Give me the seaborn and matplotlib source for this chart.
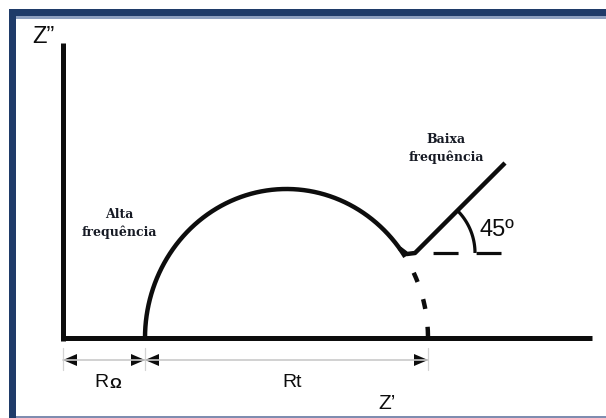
import numpy as np
import matplotlib
matplotlib.use("Agg")
import matplotlib.pyplot as plt
import seaborn as sns
from matplotlib.patches import Rectangle, Polygon

# Nyquist diagram of a Randles cell (drawing units, no scale)
R_ohm = 82            # high-frequency intercept (solution resistance)
R_t = 283             # charge-transfer resistance = arc diameter
arc_peak = 149        # -Z'' at the top of the arc
z_im_axis_top = 295
z_re_axis_end = 529

# Arc sweep (degrees): solid part, then the dashed extrapolation to the axis
arc_solid_deg = [180, 37]
arc_stub_deg = [37, 33]
arc_dashed_deg = [33, 0]

# Low-frequency (Warburg) tail at 45 degrees
knee_re = [344]
knee_im = [84]
warburg_re = [352, 442]
warburg_im = [85, 175]
warburg_angle = 45
angle_radius = 60
ref_line_end = 438

# Labels
label_hf = ["Alta", "frequência"]
label_lf = ["Baixa", "frequência"]
label_angle = "45º"
label_zim = "Z\u201d"
label_zre = "Z\u2019"
label_rt = "Rt"

sns.set_theme(style="white")
plt.rcParams["font.family"] = ["Liberation Sans", "DejaVu Sans"]
plt.rcParams["lines.scale_dashes"] = False

fig = plt.figure(figsize=(6.06, 4.18), dpi=100)
ax = fig.add_axes([0, 0, 1, 1])
ax.set_xlim(-63, 543)
ax.set_ylim(-80, 338)
ax.axis("off")

ink = "#0d0d0d"
navy = "#1f3b69"

# Frame
ax.add_patch(Rectangle((-54, 322), 597, 7, color=navy, lw=0, clip_on=False))
ax.add_patch(Rectangle((-54, 319.5), 597, 2.5, color="#8ea0c0", lw=0, clip_on=False))
ax.add_patch(Rectangle((-54, -80), 7, 409, color=navy, lw=0, clip_on=False))
ax.add_patch(Rectangle((-47, -80), 590, 2, color="#7f8db0", lw=0, clip_on=False))

# Axes of the diagram
sns.lineplot(x=[0, 0], y=[-2.5, z_im_axis_top], sort=False, estimator=None,
             color=ink, linewidth=3.6, solid_capstyle="butt", ax=ax)
sns.lineplot(x=[-2.3, z_re_axis_end], y=[0, 0], sort=False, estimator=None,
             color=ink, linewidth=3.6, solid_capstyle="butt", ax=ax)

# Semicircle
cx = R_ohm + R_t / 2
a = R_t / 2


def arc(deg_pair, n=200):
    th = np.radians(np.linspace(deg_pair[0], deg_pair[1], n))
    return cx + a * np.cos(th), arc_peak * np.sin(th)


xs, ys = arc(arc_solid_deg)
main_x = np.concatenate([xs, knee_re, warburg_re])
main_y = np.concatenate([ys, knee_im, warburg_im])
sns.lineplot(x=main_x, y=main_y, sort=False, estimator=None, color=ink,
             linewidth=3.2, solid_joinstyle="round", solid_capstyle="butt", ax=ax)

xs, ys = arc(arc_stub_deg, 20)
sns.lineplot(x=xs, y=ys, sort=False, estimator=None, color=ink,
             linewidth=3.2, solid_capstyle="butt", ax=ax)

xs, ys = arc(arc_dashed_deg)
ax.plot(xs, ys, color=ink, linewidth=3.2, linestyle=(7.2, (7.2, 13.0)),
        dash_capstyle="butt")

# Angle marker: horizontal reference and arc
vx, vy = warburg_re[0], warburg_im[0]
ax.plot([vx, ref_line_end], [vy, vy], color=ink, linewidth=2.3,
        linestyle=(18, (18, 13)), dash_capstyle="butt")
th = np.radians(np.linspace(warburg_angle, 0, 60))
ax.plot(vx + angle_radius * np.cos(th), vy + angle_radius * np.sin(th),
        color=ink, linewidth=2.3, solid_capstyle="butt")

# Dimension lines for R_ohm and R_t
dim_y = -22
marks = [0, R_ohm, R_ohm + R_t]
for xm in marks:
    ax.plot([xm, xm], [-10, -32], color="#d4d4d4", linewidth=0.9)
ax.plot([marks[0], marks[2]], [dim_y, dim_y], color="#c9c9c9", linewidth=1.2)
head_l, head_h = 14, 6
for left, right in zip(marks[:-1], marks[1:]):
    ax.add_patch(Polygon([(left, dim_y), (left + head_l, dim_y + head_h),
                          (left + head_l, dim_y - head_h)], closed=True,
                         color=ink, lw=0))
    ax.add_patch(Polygon([(right, dim_y), (right - head_l, dim_y + head_h),
                          (right - head_l, dim_y - head_h)], closed=True,
                         color=ink, lw=0))

# Text
ax.text(-31, 295, label_zim, fontsize=17, color=ink, ha="left", va="baseline")
ax.text(324, -71, label_zre, fontsize=15, color=ink, ha="center", va="baseline")
ax.text(229, -49, label_rt, fontsize=14, color=ink, ha="center", va="baseline")
ax.text(45.5, -49, "R", fontsize=14, color=ink, ha="right", va="baseline")
ax.text(46, -50, "\u03a9", fontsize=10.5, fontweight="bold", color=ink,
        ha="left", va="baseline")
ax.text(417, 102, label_angle, fontsize=17, color=ink, ha="left", va="baseline")

serif = dict(family="DejaVu Serif", fontweight="bold", fontsize=9, color="#161a24",
             ha="center", va="baseline")
ax.text(56, 120, label_hf[0], **serif)
ax.text(56, 102, label_hf[1], **serif)
ax.text(383, 195, label_lf[0], **serif)
ax.text(383, 177, label_lf[1], **serif)

fig.savefig("out.png", dpi=100, facecolor="white")
